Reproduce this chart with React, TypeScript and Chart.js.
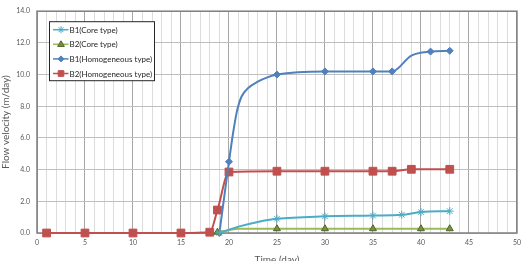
import React, { useEffect, useRef } from 'react';
import { Chart, registerables } from 'chart.js';

Chart.register(...registerables);

// ---- Data ----
const seriesNames = ['B1(Core type)', 'B2(Core type)', 'B1(Homogeneous type)', 'B2(Homogeneous type)'];

const b1CoreX = [19, 21, 23, 25, 30, 35, 38, 40, 43];
const b1CoreY = [0, 0.4, 0.7, 0.9, 1.05, 1.1, 1.15, 1.32, 1.38];
const b1CoreMarked = [1, 0, 0, 1, 1, 1, 1, 1, 1];

const b2CoreX = [18.8, 20, 21, 25, 30, 35, 40, 43];
const b2CoreY = [0.05, 0.18, 0.27, 0.27, 0.27, 0.27, 0.27, 0.27];
const b2CoreMarked = [1, 0, 0, 1, 1, 1, 1, 1];

const b1HomX = [19, 20, 20.4, 20.8, 21.3, 22, 23, 24, 25, 30, 35, 37, 39, 41, 43];
const b1HomY = [0, 4.5, 6.2, 7.6, 8.6, 9.15, 9.55, 9.82, 10.0, 10.2, 10.2, 10.2, 11.2, 11.45, 11.5];
const b1HomMarked = [1, 1, 0, 0, 0, 0, 0, 0, 1, 1, 1, 1, 0, 1, 1];

const b2HomX = [1, 5, 10, 15, 18, 18.8, 20, 25, 30, 35, 37, 39, 43];
const b2HomY = [0, 0, 0, 0, 0.05, 1.45, 3.85, 3.9, 3.9, 3.9, 3.9, 4.02, 4.02];
const b2HomMarked = [1, 1, 1, 1, 1, 1, 1, 1, 1, 1, 1, 1, 1];

const xTickMin = 0;
const xTickMax = 50;
const yTickMin = 0;
const yTickMax = 14;

const FONT = 'Lato, "Open Sans", sans-serif';

const toPoints = (xs: number[], ys: number[]) => xs.map((x, i) => ({ x, y: ys[i] }));

function drawMarker(ctx: CanvasRenderingContext2D, style: string, x: number, y: number, r: number, fill: string, stroke: string) {
  ctx.save();
  ctx.fillStyle = fill;
  ctx.strokeStyle = stroke;
  ctx.lineWidth = 1;
  ctx.beginPath();
  if (style === 'rect') {
    const s = Math.SQRT1_2 * r;
    ctx.rect(x - s, y - s, 2 * s, 2 * s);
    ctx.fill();
    ctx.stroke();
  } else if (style === 'rectRot') {
    ctx.moveTo(x, y - r);
    ctx.lineTo(x + r, y);
    ctx.lineTo(x, y + r);
    ctx.lineTo(x - r, y);
    ctx.closePath();
    ctx.fill();
    ctx.stroke();
  } else if (style === 'triangle') {
    ctx.moveTo(x, y - r);
    ctx.lineTo(x + r * 0.95, y + r * 0.6);
    ctx.lineTo(x - r * 0.95, y + r * 0.6);
    ctx.closePath();
    ctx.fill();
    ctx.stroke();
  } else if (style === 'star') {
    ctx.moveTo(x - r, y);
    ctx.lineTo(x + r, y);
    ctx.moveTo(x, y - r);
    ctx.lineTo(x, y + r);
    const d = r * Math.SQRT1_2;
    ctx.moveTo(x - d, y - d);
    ctx.lineTo(x + d, y + d);
    ctx.moveTo(x - d, y + d);
    ctx.lineTo(x + d, y - d);
    ctx.stroke();
  }
  ctx.restore();
}

const framePlugin = {
  id: 'frame',
  beforeDatasetsDraw(chart: any) {
    const { ctx, chartArea: a } = chart;
    ctx.save();
    ctx.strokeStyle = '#7f7f7f';
    ctx.lineWidth = 1.5;
    ctx.strokeRect(a.left, a.top, a.right - a.left, a.bottom - a.top);
    ctx.restore();
  },
};

const legendPlugin = {
  id: 'boxLegend',
  afterDatasetsDraw(chart: any) {
    const { ctx, chartArea: a } = chart;
    const bx = a.left + 12.5;
    const by = a.top + 10.5;
    const bw = 105;
    const bh = 59;
    ctx.save();
    ctx.fillStyle = '#ffffff';
    ctx.fillRect(bx, by, bw, bh);
    ctx.strokeStyle = '#262626';
    ctx.lineWidth = 1;
    ctx.strokeRect(bx, by, bw, bh);
    chart.data.datasets.forEach((ds: any, i: number) => {
      const y = by + 8 + i * 14.6;
      ctx.strokeStyle = ds.borderColor;
      ctx.lineWidth = 1.5;
      ctx.beginPath();
      ctx.moveTo(bx + 3.5, y);
      ctx.lineTo(bx + 19, y);
      ctx.stroke();
      drawMarker(ctx, ds.pointStyle, bx + 11.5, y, ds.legendRadius, ds.pointBackgroundColor, ds.pointBorderColor);
      ctx.fillStyle = '#262626';
      ctx.font = `8px ${FONT}`;
      ctx.textBaseline = 'middle';
      ctx.textAlign = 'left';
      ctx.fillText(ds.label, bx + 20, y + 0.5);
    });
    ctx.restore();
  },
};

export default function App() {
  const ref = useRef<HTMLCanvasElement>(null);

  useEffect(() => {
    document.body.style.margin = '0';
    const canvas = ref.current;
    if (!canvas) return;

    const mk = (label: string, xs: number[], ys: number[], marked: number[], color: string, style: string, r: number, fill: string, stroke: string, lr: number) => ({
      label,
      data: toPoints(xs, ys),
      borderColor: color,
      borderWidth: 2,
      pointStyle: style,
      pointRadius: marked.map((m) => (m ? r : 0)),
      pointBackgroundColor: fill,
      pointBorderColor: stroke,
      pointBorderWidth: 1,
      cubicInterpolationMode: 'monotone',
      tension: 0.4,
      clip: false,
      legendRadius: lr,
    });

    const chart = new Chart(canvas, {
      type: 'line',
      data: {
        datasets: [
          mk(seriesNames[0], b1CoreX, b1CoreY, b1CoreMarked, '#4BACC6', 'star', 4, '#4BACC6', '#4BACC6', 3.5),
          mk(seriesNames[1], b2CoreX, b2CoreY, b2CoreMarked, '#9BBB59', 'triangle', 4, '#77933C', '#4F6228', 3.5),
          mk(seriesNames[2], b1HomX, b1HomY, b1HomMarked, '#4F81BD', 'rectRot', 3.5, '#4F81BD', '#4F81BD', 3),
          mk(seriesNames[3], b2HomX, b2HomY, b2HomMarked, '#C0504D', 'rect', 5.5, '#C0504D', '#C0504D', 4),
        ] as any,
      },
      options: {
        animation: false,
        responsive: false,
        maintainAspectRatio: false,
        layout: { padding: { left: 0, right: 7, top: 6, bottom: 0 } },
        plugins: {
          legend: { display: false },
          tooltip: { enabled: false },
        },
        scales: {
          x: {
            type: 'linear',
            min: xTickMin,
            max: xTickMax,
            afterFit: (s: any) => { s.height = 28; },
            ticks: {
              stepSize: 1,
              autoSkip: false,
              maxRotation: 0,
              padding: 6,
              color: '#595959',
              font: { family: FONT, size: 7 },
              callback: (v: any) => (Number(v) % 5 === 0 ? String(v) : ''),
            },
            grid: {
              drawTicks: false,
              color: (c: any) => (c.tick && c.tick.value % 5 === 0 ? '#a6a6a6' : '#dcdcdc'),
              lineWidth: 1,
            },
            border: { display: false },
            title: {
              display: true,
              text: 'Time (day)',
              color: '#595959',
              font: { family: FONT, size: 10 },
              padding: { top: 0, bottom: -5 },
            },
          },
          y: {
            type: 'linear',
            min: yTickMin,
            max: yTickMax,
            afterFit: (s: any) => { s.width = 37; },
            ticks: {
              stepSize: 2,
              padding: 7,
              color: '#595959',
              font: { family: FONT, size: 7 },
              callback: (v: any) => Number(v).toFixed(1),
            },
            grid: {
              drawTicks: false,
              color: '#bfbfbf',
              lineWidth: 1,
            },
            border: { display: false },
            title: {
              display: true,
              text: 'Flow velocity (m/day)',
              color: '#595959',
              font: { family: FONT, size: 10 },
              padding: { top: 0, bottom: 0 },
            },
          },
        },
      } as any,
      plugins: [framePlugin, legendPlugin],
    });

    return () => chart.destroy();
  }, []);

  return (
    <div style={{ width: 527, height: 261 }}>
      <canvas ref={ref} width={527} height={261} style={{ display: 'block', width: 527, height: 261 }} />
    </div>
  );
}
